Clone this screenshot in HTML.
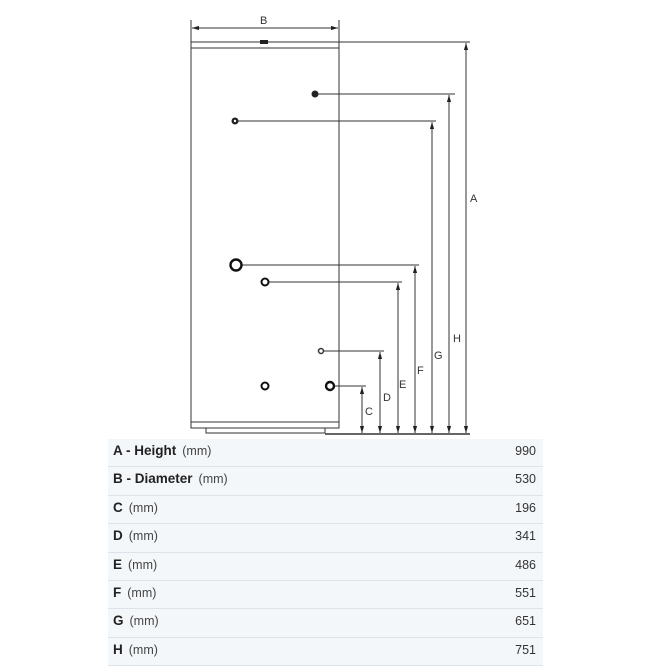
<!DOCTYPE html>
<html><head><style>
body{margin:0;width:650px;height:650px;background:#fff;overflow:hidden;font-family:"Liberation Sans",sans-serif;position:relative}
.tbl{position:absolute;left:108px;top:439px;width:435px;background:#f4f7fa}
.row{height:27.4px;border-bottom:1px solid #dde3ea;position:relative;font-size:12.5px;color:#222}
.row .l{position:absolute;left:5px;top:4px}
.row b{font-weight:bold;font-size:13.5px}
.row .m{color:#444;margin-left:6px;font-size:12.5px}
.row .r{position:absolute;right:7px;top:5px;font-size:12.5px;color:#333}
</style></head><body>
<svg width="650" height="440" style="position:absolute;left:0;top:0" font-family="Liberation Sans" font-size="11" fill="#333">
<defs>
<marker id="a" viewBox="0 0 10 10" refX="10" refY="5" markerWidth="7" markerHeight="7" orient="auto-start-reverse"><path d="M0,2L10,5L0,8z" fill="#222"/></marker>
</defs>
<g stroke="#333" stroke-width="1" fill="none">
<rect x="191" y="42" width="148" height="386"/>
<line x1="191" y1="48" x2="339" y2="48"/>
<line x1="191" y1="422" x2="339" y2="422"/>
<rect x="206" y="428" width="119" height="5"/>
<line x1="325" y1="434" x2="470" y2="434" stroke-width="1.5"/>
<line x1="191" y1="20" x2="191" y2="45"/><line x1="339" y1="20" x2="339" y2="45"/>
<line x1="192" y1="28" x2="338" y2="28" marker-start="url(#a)" marker-end="url(#a)"/>
<line x1="268" y1="42" x2="470" y2="42"/>
<line x1="466" y1="43" x2="466" y2="433" marker-start="url(#a)" marker-end="url(#a)"/>
<line x1="318" y1="94" x2="455" y2="94"/>
<line x1="449" y1="95" x2="449" y2="433" marker-start="url(#a)" marker-end="url(#a)"/>
<line x1="238" y1="121" x2="436" y2="121"/>
<line x1="432" y1="122" x2="432" y2="433" marker-start="url(#a)" marker-end="url(#a)"/>
<line x1="242" y1="265" x2="419" y2="265"/>
<line x1="415" y1="266" x2="415" y2="433" marker-start="url(#a)" marker-end="url(#a)"/>
<line x1="269" y1="282" x2="402" y2="282"/>
<line x1="398" y1="283" x2="398" y2="433" marker-start="url(#a)" marker-end="url(#a)"/>
<line x1="324" y1="351" x2="384" y2="351"/>
<line x1="380" y1="352" x2="380" y2="433" marker-start="url(#a)" marker-end="url(#a)"/>
<line x1="334" y1="386" x2="366" y2="386"/>
<line x1="362" y1="387" x2="362" y2="433" marker-start="url(#a)" marker-end="url(#a)"/>
<circle cx="236" cy="265" r="5.5" stroke-width="2.4" stroke="#111"/>
<circle cx="265" cy="282" r="3.5" stroke-width="2" stroke="#111"/>
<circle cx="265" cy="386" r="3.5" stroke-width="2" stroke="#111"/>
<circle cx="330" cy="386" r="4" stroke-width="2.4" stroke="#111"/>
<circle cx="321" cy="351" r="2.5" stroke-width="1.5"/>
</g>
<rect x="260" y="40" width="8" height="4" fill="#222"/>
<circle cx="315" cy="94" r="3.5" fill="#222"/>
<circle cx="235" cy="121" r="3.5" fill="#222"/><circle cx="235" cy="121" r="1.2" fill="#fff"/>
<text x="260" y="24">B</text>
<text x="470" y="202">A</text>
<text x="453" y="342">H</text>
<text x="434" y="359">G</text>
<text x="417" y="374">F</text>
<text x="399" y="388">E</text>
<text x="383" y="401">D</text>
<text x="365" y="415">C</text>
</svg>
<div class="tbl">
<div class="row"><span class="l"><b>A - Height</b><span class="m">(mm)</span></span><span class="r">990</span></div>
<div class="row"><span class="l"><b>B - Diameter</b><span class="m">(mm)</span></span><span class="r">530</span></div>
<div class="row"><span class="l"><b>C</b><span class="m">(mm)</span></span><span class="r">196</span></div>
<div class="row"><span class="l"><b>D</b><span class="m">(mm)</span></span><span class="r">341</span></div>
<div class="row"><span class="l"><b>E</b><span class="m">(mm)</span></span><span class="r">486</span></div>
<div class="row"><span class="l"><b>F</b><span class="m">(mm)</span></span><span class="r">551</span></div>
<div class="row"><span class="l"><b>G</b><span class="m">(mm)</span></span><span class="r">651</span></div>
<div class="row"><span class="l"><b>H</b><span class="m">(mm)</span></span><span class="r">751</span></div>
</div>
</body></html>
